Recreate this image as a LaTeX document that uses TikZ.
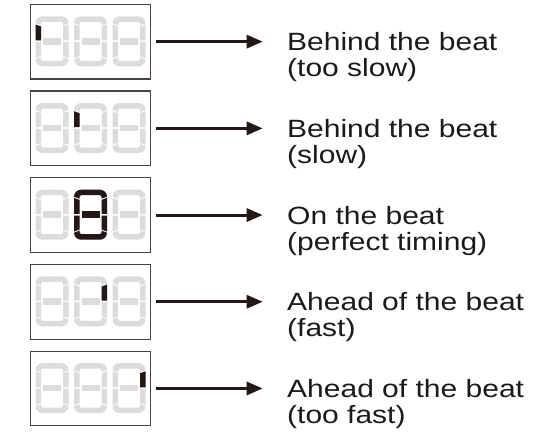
\documentclass[tikz,border=0pt]{standalone}
\usepackage{fontspec}
\setmainfont{Liberation Sans}[FakeStretch=1.2]
\usetikzlibrary{arrows.meta}
\definecolor{segdark}{HTML}{231815}
\definecolor{seglight}{HTML}{DCDCDC}
\definecolor{boxline}{HTML}{4A4242}
\definecolor{txt}{HTML}{1A1A1A}
\tikzset{
  x=1pt, y=1pt,
  lcdbox/.style={draw=boxline, line width=1.1pt, fill=white, minimum width=120.4pt, minimum height=74.7pt, inner sep=0pt, outer sep=0pt},
  pointer/.style={draw=segdark, line width=3pt, shorten <=5.5pt, -{Triangle[length=16pt,width=13pt]}},
  lbl/.style={anchor=base west, inner sep=0pt, text=txt, font=\fontsize{25}{26}\selectfont},
  pics/segA/.style={code={\path[pic actions] (0,43) arc[start angle=180,end angle=90,radius=7] -- (26,50) arc[start angle=90,end angle=0,radius=7] -- (27.5,41) -- (27.5,43) arc[start angle=0,end angle=90,radius=1.5] -- (7,44.5) arc[start angle=90,end angle=180,radius=1.5] -- (5.5,41) -- cycle;}},
  pics/segD/.style={code={\path[pic actions] (0,7) arc[start angle=180,end angle=270,radius=7] -- (26,0) arc[start angle=270,end angle=360,radius=7] -- (27.5,9) -- (27.5,7) arc[start angle=0,end angle=-90,radius=1.5] -- (7,5.5) arc[start angle=270,end angle=180,radius=1.5] -- (5.5,9) -- cycle;}},
  pics/segF/.style={code={\path[pic actions] (0,41.8) -- (5.5,39.8) -- (5.5,25.8) -- (0,25.8) -- cycle;}},
  pics/segE/.style={code={\path[pic actions] (0,24.2) -- (5.5,24.2) -- (5.5,10.2) -- (0,8.2) -- cycle;}},
  pics/segB/.style={code={\path[pic actions] (33,41.8) -- (27.5,39.8) -- (27.5,25.8) -- (33,25.8) -- cycle;}},
  pics/segC/.style={code={\path[pic actions] (33,24.2) -- (27.5,24.2) -- (27.5,10.2) -- (33,8.2) -- cycle;}},
  pics/segG/.style={code={\path[pic actions] (7.5,21.7) rectangle (25.5,28.3);}},
  pics/digit/.style={code={
    \pic[fill=seglight] {segA}; \pic[fill=seglight] {segB}; \pic[fill=seglight] {segC};
    \pic[fill=seglight] {segD}; \pic[fill=seglight] {segE}; \pic[fill=seglight] {segF};
    \pic[fill=seglight] {segG};}}
}
\begin{document}
\begin{tikzpicture}
\useasboundingbox (0,0) rectangle (559,-436);
% rows
\foreach \i/\la/\lb in {0/Behind the beat/(too slow), 1/Behind the beat/(slow), 2/On the beat/(perfect timing), 3/Ahead of the beat/(fast), 4/Ahead of the beat/(too fast)}{
  \pgfmathsetmacro{\T}{4.3+86.7*\i}
  \node[lcdbox] (b\i) at (90.5,{-(\T+37.35)}) {};
  \foreach \k in {0,1,2}{
    \pic at ({35.5+38.5*\k},{-(\T+62)}) {digit};
  }
  \coordinate (a\i) at (262.7,{-(\T+37.35)});
  \draw[pointer] (b\i.east) -- (a\i);
  \node[lbl] (l\i) at (287,{-(\T+46.4)}) {\la};
  \node[lbl] (m\i) at (287,{-(\T+72.4)}) {\lb};
}
% active segments
\pic[fill=segdark] at (35.5,{-(4.3+62)}) {segF};
\pic[fill=segdark] at (74,{-(4.3+86.7+62)}) {segF};
\foreach \s in {segA,segB,segC,segD,segE,segF,segG}{
  \pic[fill=segdark] at (74,{-(4.3+2*86.7+62)}) {\s};
}
\pic[fill=segdark] at (74,{-(4.3+3*86.7+62)}) {segB};
\pic[fill=segdark] at (112.5,{-(4.3+4*86.7+62)}) {segB};
\end{tikzpicture}
\end{document}
